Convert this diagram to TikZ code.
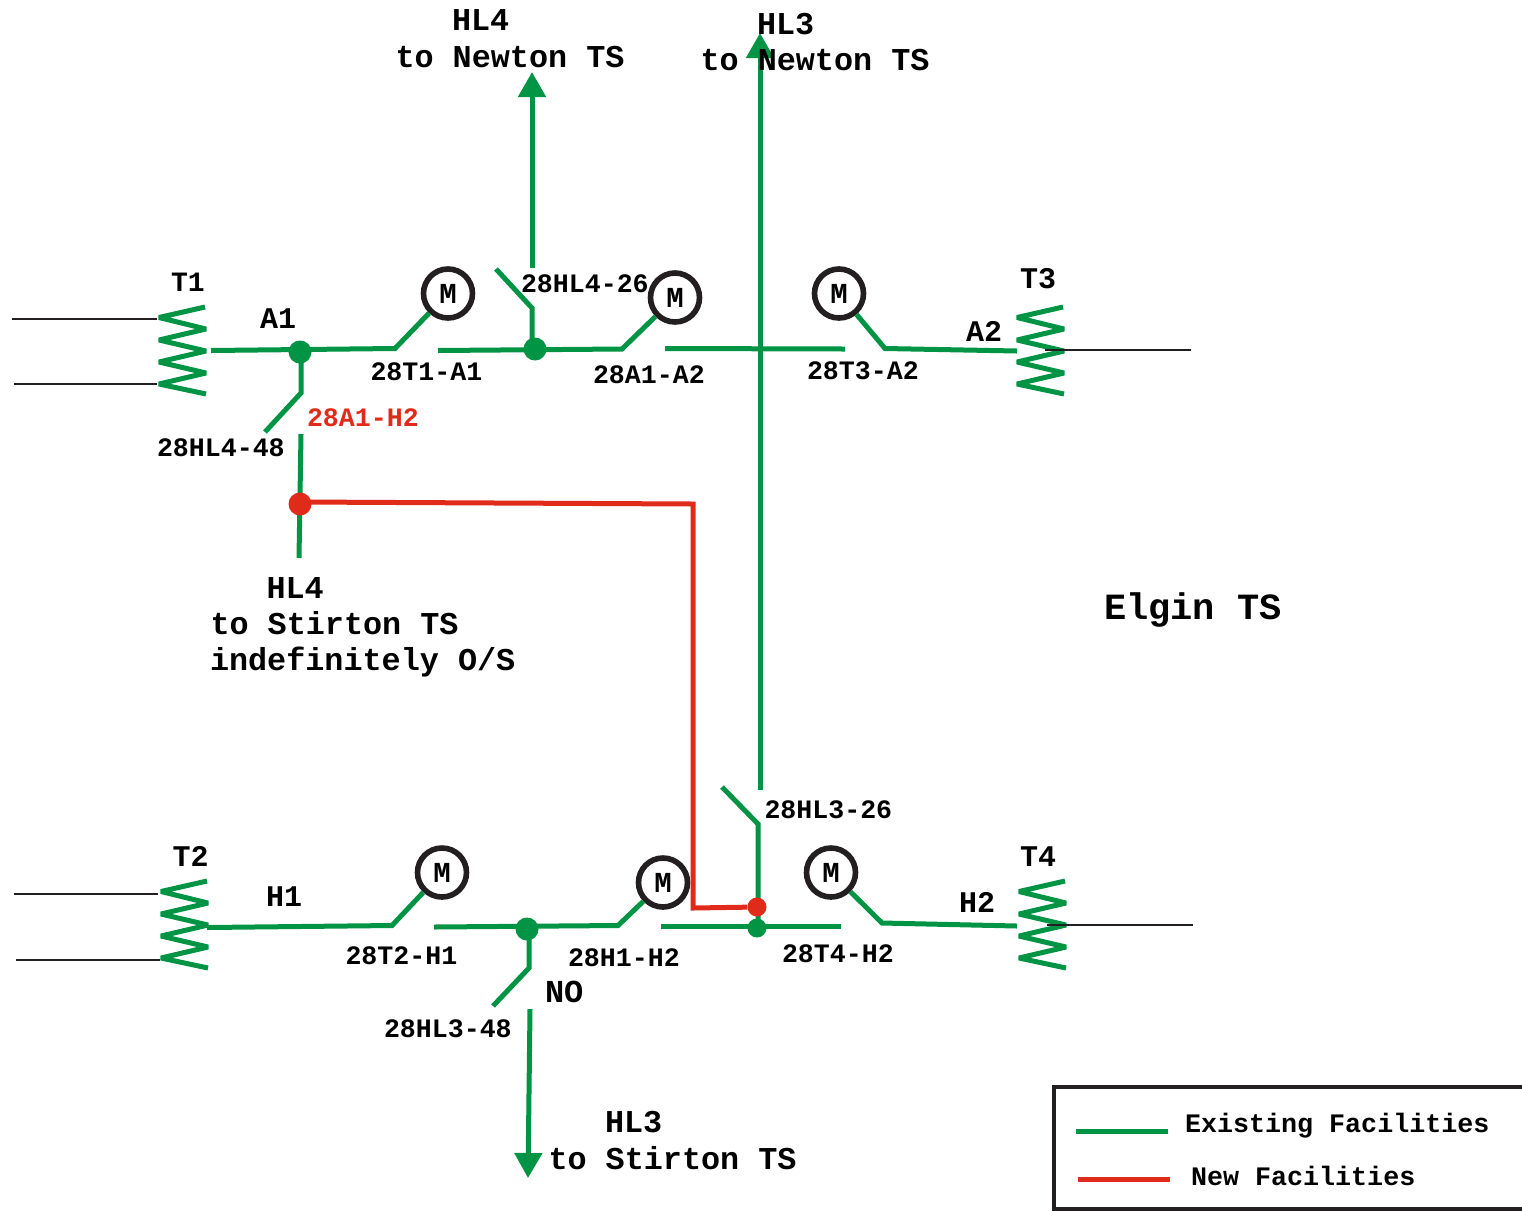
\documentclass[tikz,border=0pt]{standalone}
\usepackage{fontspec}
\setmainfont{Liberation Mono}[BoldFont={Liberation Mono Bold}]
\usetikzlibrary{arrows.meta}
\definecolor{gline}{RGB}{0,148,68}
\definecolor{rline}{RGB}{224,43,26}
\definecolor{kline}{RGB}{35,31,32}
\tikzset{
  x=1pt,y=-1pt,
  gw/.style={draw=gline,line width=5pt,line join=miter},
  rw/.style={draw=rline,line width=5pt,line join=miter},
  kw/.style={draw=kline,line width=1.8pt},
  lbl/.style={anchor=base west,inner sep=0pt,outer sep=0pt,font=\bfseries\fontsize{#1}{#1}\selectfont,text=black},
  lbl/.default=26.6,
  rlbl/.style={lbl=26.6,text=rline},
  gdot/.style={circle,fill=gline,draw=none,inner sep=0pt,minimum size=#1},
  rdot/.style={circle,fill=rline,draw=none,inner sep=0pt,minimum size=#1},
  motor/.style={circle,draw=kline,line width=5.6pt,fill=white,inner sep=0pt,minimum size=49pt,font=\bfseries\fontsize{29}{29}\selectfont},
  arr/.style={-{Triangle[length=25pt,width=27pt]}},
  coil/.pic={\draw[gw,line join=bevel] (205,307)--(159,317.5)--(206,329)--(159,340)--(206,351)--(159,362)--(206,373)--(159,384)--(206,394);}
}
\begin{document}
\begin{tikzpicture}
\useasboundingbox (0,0) rectangle (1522,1211);
% coils
\pic at (0,0) {coil};
\pic at (2,574) {coil};
\pic at (858,0) {coil};
\pic at (860,574) {coil};
% feeder stubs
\coordinate (p1a) at (12,319); \coordinate (p1b) at (157,319);
\coordinate (p2a) at (14,384); \coordinate (p2b) at (157,384);
\coordinate (p3a) at (14,894); \coordinate (p3b) at (158,894);
\coordinate (p4a) at (16,960); \coordinate (p4b) at (160,960);
\coordinate (p5a) at (1045,350); \coordinate (p5b) at (1191,350);
\coordinate (p6a) at (1047,925); \coordinate (p6b) at (1193,925);
\draw[kw] (p1a)--(p1b); \draw[kw] (p2a)--(p2b); \draw[kw] (p3a)--(p3b);
\draw[kw] (p4a)--(p4b); \draw[kw] (p5a)--(p5b); \draw[kw] (p6a)--(p6b);
% motors
\node[motor] (m1) at (448,293.5) {M};
\node[motor] (m2) at (675,297.5) {M};
\node[motor] (m3) at (839,293.5) {M};
\node[motor] (m4) at (442,872.5) {M};
\node[motor] (m5) at (663,882.5) {M};
\node[motor] (m6) at (831,872.5) {M};
% coordinates
\coordinate (a1s) at (211,350.5); \coordinate (a1k) at (395,348.5);
\coordinate (a2s) at (438,350.5); \coordinate (a2k) at (622,349);
\coordinate (a3s) at (665,348.5); \coordinate (a3e) at (845,349);
\coordinate (a4s) at (885,348.5); \coordinate (a4e) at (1017,351);
\coordinate (h1s) at (207,927.5); \coordinate (h1k) at (392,925.5);
\coordinate (h2s) at (434,927); \coordinate (h2k) at (618,925.5);
\coordinate (h3s) at (661,926); \coordinate (h3e) at (841,926);
\coordinate (h4s) at (882,923); \coordinate (h4e) at (1017,926);
\coordinate (s1k) at (301,393); \coordinate (s1o) at (265,432);
\coordinate (s1b) at (301,434); \coordinate (s1e) at (299,558);
\coordinate (s2k) at (532,308); \coordinate (s2o) at (496,269);
\coordinate (s2b) at (532,268); \coordinate (s2t) at (532,72);
\coordinate (s3b) at (760,790); \coordinate (s3t) at (760,33);
\coordinate (s4k) at (758,824); \coordinate (s4o) at (722,787);
\coordinate (s5k) at (529,968); \coordinate (s5o) at (493,1006);
\coordinate (s5b) at (530,1009); \coordinate (s5t) at (528,1178);
\coordinate (r1) at (693,504); \coordinate (r2) at (693,908);
% green lines
\draw[gw] (a1s)--(a1k)--(m1);
\draw[gw] (a2s)--(a2k)--(m2);
\draw[gw] (a3s)--(a3e);
\draw[gw] (a4e)--(a4s)--(m3);
\draw[gw] (h1s)--(h1k)--(m4);
\draw[gw] (h2s)--(h2k)--(m5);
\draw[gw] (h3s)--(h3e);
\draw[gw] (h4e)--(h4s)--(m6);
\node[gdot=23pt] (d1) at (300,352) {};
\node[gdot=23pt] (d2) at (535,349) {};
\node[gdot=23pt] (d3) at (527,929) {};
\node[gdot=19pt] (d4) at (757,928) {};
\draw[gw] (s1k|-d1)--(s1k)--(s1o);
\draw[gw] (s1b)--(s1e);
\draw[gw] (s2k|-d2)--(s2k)--(s2o);
\draw[gw,arr] (s2b)--(s2t);
\draw[gw,arr] (s3b)--(s3t);
\draw[gw] (s4k|-d4)--(s4k)--(s4o);
\draw[gw] (s5k|-d3)--(s5k)--(s5o);
\draw[gw,arr] (s5b)--(s5t);
% new facilities
\node[rdot=23pt] (rd1) at (300,504) {};
\node[rdot=19pt] (rd2) at (757,907) {};
\coordinate (r0) at (300,502);
\draw[rw] (r0)--(r1)--(r2)--(rd2);
% labels
\node[lbl=31.8] (tHL4a) at (452,30) {HL4};
\node[lbl=31.8] (tHL4b) at (395.5,67) {to Newton TS};
\node[lbl=31.8] (tHL3a) at (757,34) {HL3};
\node[lbl=31.8] (tHL3b) at (700.5,70) {to Newton TS};
\node[lbl=28] (tT1) at (171,291) {T1};
\node[lbl=30] (tA1) at (260,328) {A1};
\node[lbl] (t1) at (370.5,380) {28T1-A1};
\node[lbl] (t2) at (521,292) {28HL4-26};
\node[lbl] (t3) at (593,383) {28A1-A2};
\node[lbl] (t4) at (807,379) {28T3-A2};
\node[lbl=30] (tT3) at (1020,288) {T3};
\node[lbl=30] (tA2) at (966,341) {A2};
\node[lbl] (t5) at (157,456) {28HL4-48};
\node[rlbl] (t6) at (307,426) {28A1-H2};
\node[lbl=31.8] (tS1) at (266.5,598) {HL4};
\node[lbl=31.8] (tS2) at (210.5,634) {to Stirton TS};
\node[lbl=31.8] (tS3) at (210,670) {indefinitely O/S};
\node[lbl=37] (tE) at (1104,619) {Elgin TS};
\node[lbl] (t7) at (764.5,818) {28HL3-26};
\node[lbl=30] (tT2) at (172.5,866) {T2};
\node[lbl=30] (tH1) at (266,906) {H1};
\node[lbl=30] (tT4) at (1020,866) {T4};
\node[lbl=30] (tH2) at (959,912) {H2};
\node[lbl] (t8) at (345.5,964) {28T2-H1};
\node[lbl] (t9) at (568,966) {28H1-H2};
\node[lbl] (t10) at (782,962) {28T4-H2};
\node[lbl=32] (tNO) at (545,1002) {NO};
\node[lbl] (t11) at (384,1037) {28HL3-48};
\node[lbl=31.8] (tS4) at (605,1132) {HL3};
\node[lbl=31.8] (tS5) at (548.5,1169) {to Stirton TS};
% legend
\coordinate (l1) at (1522,1087); \coordinate (l2) at (1054,1087);
\coordinate (l3) at (1054,1209); \coordinate (l4) at (1522,1209);
\draw[draw=kline,line width=4.5pt] (l1)--(l2)--(l3)--(l4);
\coordinate (g1) at (1076,1131); \coordinate (g2) at (1168,1131);
\coordinate (g3) at (1078,1179); \coordinate (g4) at (1170,1179);
\draw[gw] (g1)--(g2);
\draw[rw] (g3)--(g4);
\node[lbl=26.7] (tL1) at (1185,1132) {Existing Facilities};
\node[lbl=26.7] (tL2) at (1191,1185) {New Facilities};
\end{tikzpicture}
\end{document}
